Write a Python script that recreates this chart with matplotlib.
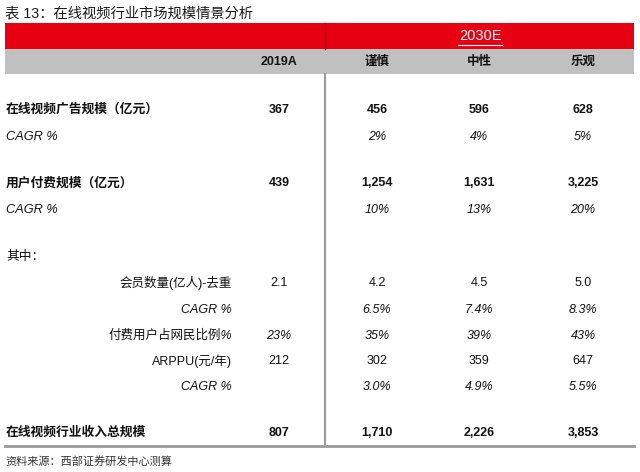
import matplotlib.pyplot as plt

plt.rcParams['font.family'] = ['Liberation Sans', 'Noto Sans CJK SC', 'DejaVu Sans']

title = "表 13：在线视频行业市场规模情景分析"
source = "资料来源：西部证券研发中心测算"
group_label = "2030E"
columns = ["2019A", "谨慎", "中性", "乐观"]

# label, values (2019A, 谨慎, 中性, 乐观), style
row_labels = ["在线视频广告规模（亿元）", "CAGR %", "用户付费规模（亿元）", "CAGR %", "其中：",
              "会员数量(亿人)-去重", "CAGR %", "付费用户占网民比例%", "ARPPU(元/年)", "CAGR %",
              "在线视频行业收入总规模"]
row_values = [["367", "456", "596", "628"],
              ["", "2%", "4%", "5%"],
              ["439", "1,254", "1,631", "3,225"],
              ["", "10%", "13%", "20%"],
              ["", "", "", ""],
              ["2.1", "4.2", "4.5", "5.0"],
              ["", "6.5%", "7.4%", "8.3%"],
              ["23%", "35%", "39%", "43%"],
              ["212", "302", "359", "647"],
              ["", "3.0%", "4.9%", "5.5%"],
              ["807", "1,710", "2,226", "3,853"]]
row_styles = ["bold", "italic", "bold", "italic", "plain",
              "sub", "subitalic", "subitalic", "sub", "subitalic", "bold"]
row_y = [110, 137, 183, 210, 257, 283, 310, 336, 361, 387, 433]

col_x = [279, 377, 479, 583]
red = '#E60012'
grey = '#C0C0C0'
ink = '#111111'

fig = plt.figure(figsize=(6.4, 4.72), dpi=100)
ax = fig.add_axes([0, 0, 1, 1])
ax.set_xlim(0, 640)
ax.set_ylim(472, 0)
ax.axis('off')

ax.text(5, 13, title, fontsize=10.3, va='center', ha='left', color='#1a1a1a')

# header bands
ax.fill_between([5, 634], 23, 49, color=red, lw=0)
ax.fill_between([5, 634], 49, 74, color=grey, lw=0)
ax.plot([324.5, 324.5], [23, 49], color='#A0000C', lw=1)
ax.plot([325, 325], [74, 444], color='#999999', lw=1.5)
ax.plot([5, 634], [446, 446], color='#999999', lw=2)

ax.text(480, 36, group_label, fontsize=10.5, ha='center', va='center', color='white')
ax.plot([458, 502], [44.5, 44.5], color='white', lw=0.8)
for x, c in zip(col_x, columns):
    ax.text(x, 62, c, fontsize=9, ha='center', va='center', weight='bold', color=ink)

for label, vals, style, y in zip(row_labels, row_values, row_styles, row_y):
    weight = 'bold' if style == 'bold' else 'normal'
    fstyle = 'italic' if 'italic' in style else 'normal'
    if style.startswith('sub'):
        ax.text(232, y, label, fontsize=9, ha='right', va='center',
                style=fstyle, color=ink)
    else:
        ax.text(6, y, label, fontsize=9.2, ha='left', va='center',
                weight=weight, style=fstyle, color=ink)
    for x, v in zip(col_x, vals):
        ax.text(x, y, v, fontsize=9, ha='center', va='center',
                weight=weight, style=fstyle, color=ink)

ax.text(5, 461, source, fontsize=8, ha='left', va='center', color='#333333')

fig.savefig('out.png', dpi=100)
